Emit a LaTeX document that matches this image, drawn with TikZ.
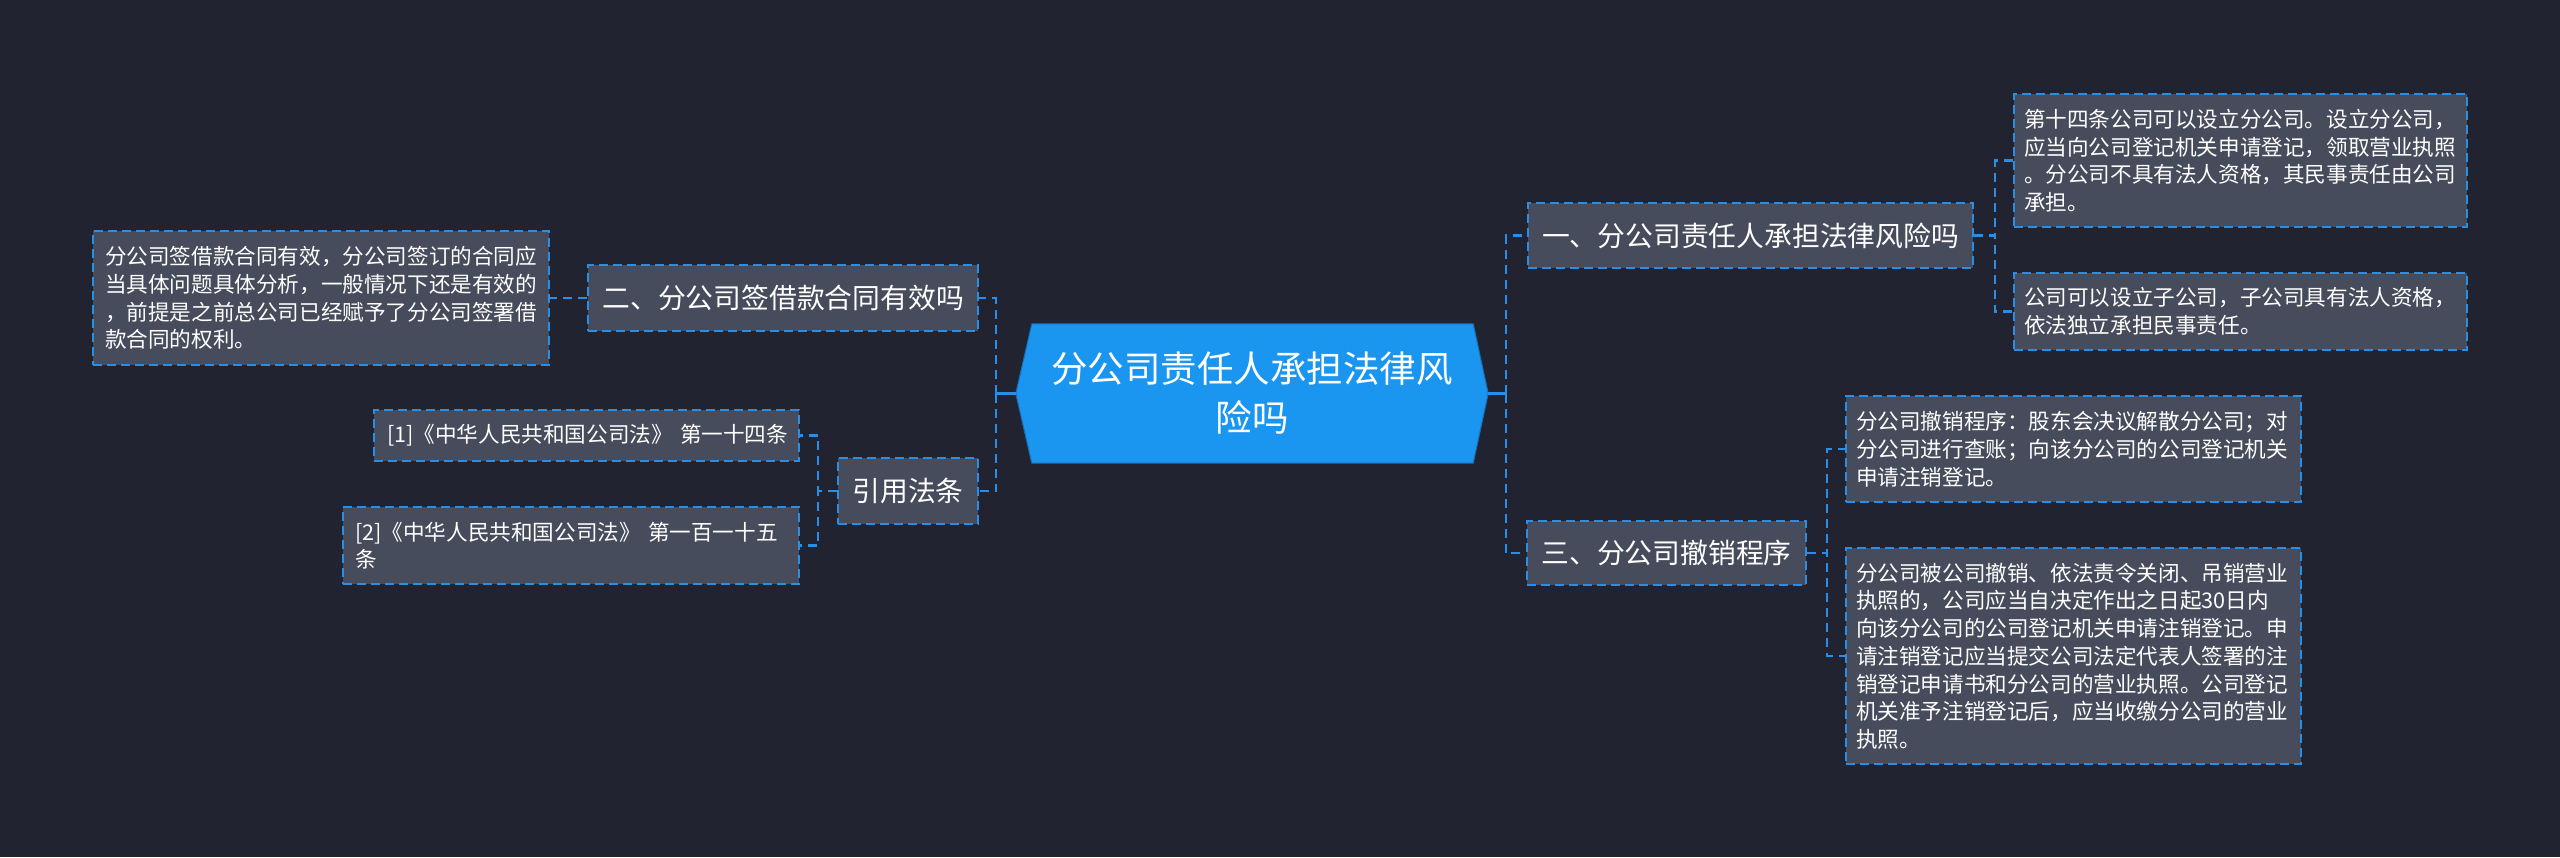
\documentclass[tikz,border=0pt]{standalone}
\usepackage{fontspec}
\setmainfont{Noto Sans CJK SC}
\usetikzlibrary{calc,backgrounds}
\definecolor{bgc}{RGB}{33,36,48}
\definecolor{boxfill}{RGB}{70,76,91}
\definecolor{lblue}{RGB}{41,143,230}
\definecolor{cblue}{RGB}{27,150,240}
\definecolor{cedge}{RGB}{22,110,180}
\newcommand{\boxfont}{\fontsize{21.6pt}{27.7pt}\selectfont}
\newcommand{\midfont}{\fontsize{27.8pt}{34pt}\selectfont}
\newcommand{\bigfont}{\fontsize{36.5pt}{49pt}\selectfont}
\tikzset{
  conn/.style={draw=lblue, line width=2.4pt, dash pattern=on 9pt off 6pt},
  connsolid/.style={draw=lblue, line width=2.4pt},
  textbox/.style={draw=lblue, line width=2.2pt, dash pattern=on 9pt off 5pt, fill=boxfill, text=white,
    font=\boxfont, align=left, inner xsep=10pt, inner ysep=0pt, anchor=north west},
  topic/.style={draw=lblue, line width=2.2pt, dash pattern=on 9pt off 5pt, fill=boxfill, text=white,
    font=\midfont, align=center, inner sep=0pt, anchor=north west},
}
\begin{document}
\begin{tikzpicture}[x=1pt,y=-1pt]
\begin{scope}[on background layer]
\fill[bgc] (0,0) rectangle (2560,857);
\end{scope}
\useasboundingbox (0,0) rectangle (2560,857);

% central node
\node (c) [minimum width=472pt, minimum height=139pt, inner sep=0pt, text=white, font=\bigfont, align=center]
  at (1252,393.5) {分公司责任人承担法律风\\险吗};
\begin{scope}[on background layer]
\fill[cblue, draw=cedge, line width=1pt] (c.west) -- ($(c.north west)+(16,0)$) -- ($(c.north east)+(-15,0)$) -- (c.east)
  -- ($(c.south east)+(-15,0)$) -- ($(c.south west)+(16,0)$) -- cycle;
\end{scope}

% right branch
\node (n1) [topic, minimum width=445pt, minimum height=65pt] at (1527,202) {一、分公司责任人承担法律风险吗};
\node (n3) [topic, minimum width=279pt, minimum height=64pt] at (1526,520) {三、分公司撤销程序};

\node (b1a) [textbox, minimum width=453pt, minimum height=133pt, text width=433pt] at (2013,93)
  {第十四条公司可以设立分公司。设立分公司，\\应当向公司登记机关申请登记，领取营业执照\\。分公司不具有法人资格，其民事责任由公司\\承担。};
\node (b1b) [textbox, minimum width=453pt, minimum height=77pt, text width=433pt] at (2013,272)
  {公司可以设立子公司，子公司具有法人资格，\\依法独立承担民事责任。};
\node (b3a) [textbox, minimum width=455pt, minimum height=106pt, text width=435pt] at (1845,395)
  {分公司撤销程序：股东会决议解散分公司；对\\分公司进行查账；向该分公司的公司登记机关\\申请注销登记。};
\node (b3b) [textbox, minimum width=455pt, minimum height=216pt, text width=435pt] at (1845,547)
  {分公司被公司撤销、依法责令关闭、吊销营业\\执照的，公司应当自决定作出之日起30日内\\向该分公司的公司登记机关申请注销登记。申\\请注销登记应当提交公司法定代表人签署的注\\销登记申请书和分公司的营业执照。公司登记\\机关准予注销登记后，应当收缴分公司的营业\\执照。};

% left branch
\node (n2) [topic, minimum width=390pt, minimum height=66pt] at (587,264) {二、分公司签借款合同有效吗};
\node (nr) [topic, minimum width=140pt, minimum height=66pt] at (837,457) {引用法条};
\node (b2a) [textbox, minimum width=456pt, minimum height=134pt, text width=432pt, inner xsep=12pt] at (92,230)
  {分公司签借款合同有效，分公司签订的合同应\\当具体问题具体分析，一般情况下还是有效的\\，前提是之前总公司已经赋予了分公司签署借\\款合同的权利。};
\node (r1) [textbox, minimum width=425pt, minimum height=51pt, text width=399pt, inner xsep=13pt] at (373,409)
  {\mbox{[1]《中华人民共和国公司法》 第一十四条}};
\node (r2) [textbox, minimum width=456pt, minimum height=77pt, text width=432pt, inner xsep=12pt] at (342,506)
  {\mbox{[2]《中华人民共和国公司法》 第一百一十五}\\条};

% connectors right
\coordinate (rt) at (1506,393.5);
\draw[connsolid] (c.east) -- (rt);
\draw[conn] (rt) |- (n1.west);
\draw[conn] (rt) |- (n3.west);
\draw[conn] (n1.east) -- ++(21,0) |- (b1a.west);
\draw[conn] (n1.east) -- ++(21,0) |- (b1b.west);
\draw[conn] (n3.east) -- ++(20,0) |- (b3a.west);
\draw[conn] (n3.east) -- ++(20,0) |- (b3b.west);

% connectors left
\coordinate (lt) at (996,393.5);
\draw[connsolid] (c.west) -- (lt);
\draw[conn] (lt) |- (n2.east);
\draw[conn] (lt) |- (nr.east);
\draw[conn] (n2.west) -- (b2a.east);
\draw[conn] (nr.west) -- ++(-19,0) |- (r1.east);
\draw[conn] (nr.west) -- ++(-19,0) |- (r2.east);
\end{tikzpicture}
\end{document}
